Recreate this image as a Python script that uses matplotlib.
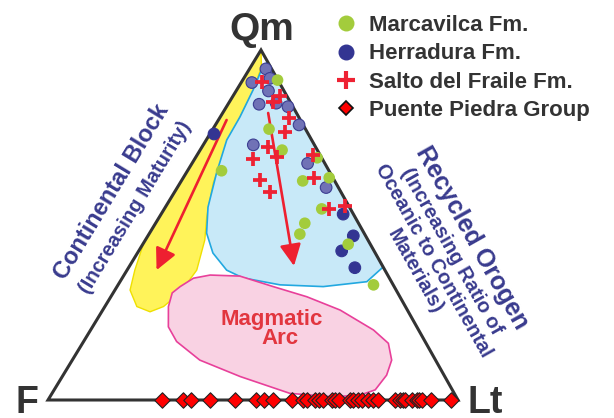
import matplotlib.pyplot as plt
from matplotlib.lines import Line2D
from matplotlib.patches import Polygon

plt.rcParams['font.family'] = ['Liberation Sans', 'DejaVu Sans']

# ternary compositions in percent: (Qm, F, Lt)
marc_qm = [91.4, 77.4, 71.4, 69.2, 62.6, 63.5, 54.6, 50.5, 47.4, 44.5, 32.9, 65.5]
marc_f = [0.1, 8.9, 8.6, 1.1, 7.8, 0.9, 7.0, 13.1, 15.8, 5.4, 4.8, 26.2]
marc_lt = [8.5, 13.7, 20.0, 29.7, 29.6, 35.6, 38.4, 36.4, 36.8, 50.1, 62.3, 8.3]

herr_qm = [94.6, 91.9, 90.7, 88.3, 84.8, 84.5, 83.8, 78.6, 72.9, 67.6, 60.7,
           76.0, 53.1, 46.9, 42.6, 37.8]
herr_f = [1.4, 1.7, 6.7, 3.8, 3.6, 7.9, 1.2, 1.0, 14.9, 4.2, 3.0,
          23.0, 2.5, 3.0, 7.9, 7.0]
herr_lt = [4.0, 6.4, 2.6, 7.9, 11.6, 7.6, 15.0, 20.4, 12.2, 28.2, 36.3,
           1.0, 44.4, 50.1, 49.5, 55.2]
herr_faded = [True] * 11 + [False] * 5

salto_qm = [90.9, 86.9, 85.1, 80.6, 76.7, 72.4, 69.3, 68.9, 62.9, 59.3, 70.0, 63.5, 54.6, 55.4]
salto_f = [4.2, 1.6, 4.2, 2.5, 5.3, 11.5, 10.9, 17.0, 18.0, 17.4, 1.7, 4.5, 5.2, 0.9]
salto_lt = [4.9, 11.5, 10.7, 16.9, 18.0, 16.1, 19.8, 14.1, 19.1, 23.3, 28.3, 32.0, 40.2, 43.7]

puente_lt = [27.7, 33.0, 34.8, 39.5, 45.6, 50.7, 52.8, 54.8, 59.4, 62.3, 63.1, 65.1,
             66.0, 67.1, 69.2, 70.0, 71.0, 73.7, 74.5, 75.7, 76.5, 78.1, 79.3, 80.6,
             84.6, 85.9, 86.5, 87.1, 88.7, 89.9, 90.5, 91.1, 93.4, 98.2]
puente_qm = [0.0] * len(puente_lt)
puente_f = [100.0 - v for v in puente_lt]

# fields as (Qm, Lt) outlines
yellow_field = [(100, 0), (45, 0), (37.1, 1.9), (31.4, 3.7), (26.7, 7.8), (25.2, 11.8),
                (26.7, 14.3), (30.6, 16.3), (37.1, 17.0), (45.7, 14.5), (52.4, 11.5),
                (62.0, 8.1), (71.4, 6.1), (80.9, 4.8), (88.6, 4.1), (95.2, 2.6)]
cyan_field = [(96.6, 3.4), (95.4, 2.9), (88.6, 4.0), (80.9, 4.8), (74.3, 5.0), (64.9, 7.4),
              (55.1, 10.4), (47.7, 13.9), (42.0, 18.4), (37.1, 24.3), (34.9, 29.4),
              (32.9, 39.5), (32.4, 50.3), (33.8, 60.2), (38.0, 62.0)]
pink_field = [(26.7, 15.5), (30.6, 14.4), (32.4, 15.4), (34.8, 17.4), (35.7, 21.0),
              (35.4, 28.4), (32.4, 38.1), (29.5, 47.8), (25.7, 57.9), (20.0, 69.0),
              (16.2, 74.6), (11.4, 77.9), (7.1, 78.9), (2.9, 78.3), (1.4, 75.4),
              (0.9, 69.0), (1.9, 58.0), (6.7, 43.4), (11.4, 31.1), (16.7, 22.7),
              (20.9, 18.5)]
arrow_block = [(80.0, 2.0), (37.1, 7.2)]
arrow_orogen = [(82.0, 11.1), (38.3, 40.1)]

# triangle corners on the canvas
P_QM = (261, 50)
P_F = (48, 400)
P_LT = (458, 400)


def tern(qm, f, lt):
    t = qm + f + lt
    x = (qm * P_QM[0] + f * P_F[0] + lt * P_LT[0]) / t
    y = (qm * P_QM[1] + f * P_F[1] + lt * P_LT[1]) / t
    return x, y


def tern_list(qms, fs, lts):
    pts = [tern(a, b, c) for a, b, c in zip(qms, fs, lts)]
    return [p[0] for p in pts], [p[1] for p in pts]


def field_xy(outline):
    return [tern(q, 100 - q - l, l) for q, l in outline]


fig = plt.figure(figsize=(6.14, 4.18), dpi=100)
ax = fig.add_axes([0, 0, 1, 1])
ax.set_xlim(0, 614)
ax.set_ylim(418, 0)
ax.axis('off')

ax.add_patch(Polygon(field_xy(yellow_field), closed=True, facecolor='#fff35a',
                     edgecolor='#efe000', lw=1.0, zorder=1))
ax.add_patch(Polygon(field_xy(cyan_field), closed=True, facecolor='#c8e9f8',
                     edgecolor='#22a8e0', lw=1.2, zorder=2))
ax.add_patch(Polygon(field_xy(pink_field), closed=True, facecolor='#f9d2e3',
                     edgecolor='#e8409a', lw=1.2, zorder=2))

tri = [tern(100, 0, 0), tern(0, 100, 0), tern(0, 0, 100)]
ax.add_patch(Polygon(tri, closed=True, fill=False, edgecolor='#333333', lw=2.2,
                     joinstyle='miter', zorder=3))

for arr in (arrow_block, arrow_orogen):
    (q0, l0), (q1, l1) = arr
    ax.annotate('', xy=tern(q1, 100 - q1 - l1, l1), xytext=tern(q0, 100 - q0 - l0, l0),
                arrowprops=dict(arrowstyle='-|>,head_length=0.65,head_width=0.32',
                                color='#ee2030', lw=1.9, shrinkA=0, shrinkB=0,
                                mutation_scale=20), zorder=4)

hx, hy = tern_list(herr_qm, herr_f, herr_lt)
hcol = ['#7072b6' if fd else '#333592' for fd in herr_faded]
hedge = ['#3c3d92' if fd else '#333592' for fd in herr_faded]
ax.scatter(hx, hy, s=70, c=hcol, edgecolors=hedge, linewidths=0.8, zorder=5)

mx, my = tern_list(marc_qm, marc_f, marc_lt)
ax.scatter(mx, my, s=70, c='#a3cc3c', edgecolors='none', zorder=6)

sx, sy = tern_list(salto_qm, salto_f, salto_lt)
ax.scatter(sx, sy, s=105, marker='+', c='#ee2233', linewidths=2.7, zorder=7)

px, py = tern_list(puente_qm, puente_f, puente_lt)
ax.scatter(px, py, s=62, marker='D', c='#ff0000', edgecolors='#222222',
           linewidths=0.8, zorder=8)

dark = '#333333'
navy = '#393b8e'
ax.text(262, 40, 'Qm', fontsize=28, fontweight='bold', color=dark, ha='center', va='baseline')
ax.text(15, 413, 'F', fontsize=27, fontweight='bold', color=dark, ha='left', va='baseline')
ax.text(467, 413, 'Lt', fontsize=27, fontweight='bold', color=dark, ha='left', va='baseline')

ax.text(112, 192, 'Continental Block', fontsize=17, fontweight='bold', color=navy,
        rotation=58.7, rotation_mode='anchor', ha='center', va='center')
ax.text(135, 207, '(Increasing Maturity)', fontsize=14.5, fontweight='bold', color=navy,
        rotation=58.7, rotation_mode='anchor', ha='center', va='center')

ax.text(472, 238, 'Recycled Orogen', fontsize=18, fontweight='bold', color=navy,
        rotation=-60.6, rotation_mode='anchor', ha='center', va='center')
ax.text(433, 261, '(Increasing Ratio of\nOceanic to Continental\nMaterials)', fontsize=14.5,
        fontweight='bold', color=navy, rotation=-60.6, rotation_mode='anchor',
        ha='center', va='center', multialignment='center', linespacing=1.12)

ax.text(271.5, 319, 'Magmatic', fontsize=16, fontweight='bold', color='#e2363f',
        ha='center', va='center')
ax.text(280, 339, 'Arc', fontsize=16, fontweight='bold', color='#e2363f',
        ha='center', va='center')

handles = [
    Line2D([], [], ls='none', marker='o', markersize=11.5, markerfacecolor='#a3cc3c',
           markeredgecolor='none'),
    Line2D([], [], ls='none', marker='o', markersize=10.5, markerfacecolor='#333592',
           markeredgecolor='#333592'),
    Line2D([], [], ls='none', marker='+', markersize=13, markeredgecolor='#ee2233',
           markeredgewidth=3),
    Line2D([], [], ls='none', marker='D', markersize=7.5, markerfacecolor='#ff0000',
           markeredgecolor='#111111', markeredgewidth=1.2),
]
labels = ['Marcavilca Fm.', 'Herradura Fm.', 'Salto del Fraile Fm.', 'Puente Piedra Group']
leg = ax.legend(handles, labels, loc='upper left', bbox_to_anchor=(335 / 614, 1 - 15 / 418),
                frameon=False, prop=dict(family='Liberation Sans', weight='bold', size=16),
                labelcolor=dark, handlelength=1.0, handletextpad=0.55, labelspacing=0.33,
                borderaxespad=0, borderpad=0)

fig.savefig('out.png', dpi=100)
